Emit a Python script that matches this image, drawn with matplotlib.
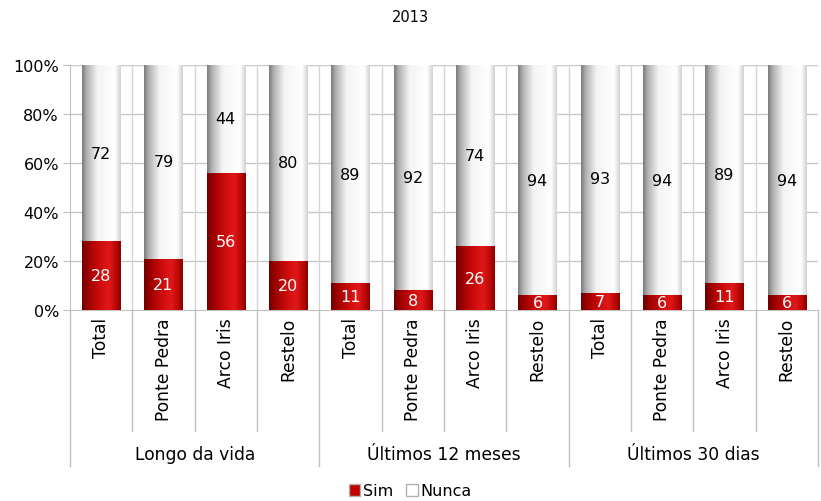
import numpy as np
import matplotlib; matplotlib.use("Agg")
import matplotlib.pyplot as plt
from matplotlib.colors import LinearSegmentedColormap
from matplotlib.patches import Patch

plt.rcParams['font.family'] = ['DejaVu Sans']

groups = ["Longo da vida", "Últimos 12 meses", "Últimos 30 dias"]
places = ["Total", "Ponte Pedra", "Arco Iris", "Restelo"]
sim = [28, 21, 56, 20, 11, 8, 26, 6, 7, 6, 11, 6]
nunca = [72, 79, 44, 80, 89, 92, 74, 94, 93, 94, 89, 94]

red_cm = LinearSegmentedColormap.from_list("r", [(0, "#6e0000"), (0.15, "#9a0000"), (0.45, "#cc0c0c"),
                                                  (0.7, "#e01818"), (0.9, "#b40606"), (1, "#8c0000")])
wht_cm = LinearSegmentedColormap.from_list("w", [(0, "#7a7a7a"), (0.12, "#b0b0b0"), (0.4, "#f4f4f4"),
                                                  (0.85, "#ffffff"), (1, "#d0d0d0")])
grad = np.linspace(0, 1, 256).reshape(1, -1)
fs = 11.5
fs_cat = 12.3

fig = plt.figure(figsize=(8.21, 5.02), dpi=100)
ax = fig.add_axes([70/821, 1-311/502, 748/821, 245/502])
n = len(sim)
x = np.arange(n)
w = 0.61
for i in range(n):
    ax.imshow(grad, cmap=red_cm, extent=[x[i]-w/2, x[i]+w/2, 0, sim[i]], aspect="auto",
              interpolation="bicubic", zorder=3)
    ax.imshow(grad, cmap=wht_cm, extent=[x[i]-w/2, x[i]+w/2, sim[i], sim[i]+nunca[i]], aspect="auto",
              interpolation="bicubic", zorder=3)
    ax.text(x[i], sim[i]/2, str(sim[i]), color="white", ha="center", va="center", fontsize=fs, zorder=4)
    ax.text(x[i], sim[i]+nunca[i]/2, str(nunca[i]), color="black", ha="center", va="center", fontsize=fs, zorder=4)

ax.set_xlim(-0.5, n-0.5)
ax.set_ylim(0, 100)
ax.set_yticks(range(0, 101, 20))
ax.set_yticklabels([f"{v}%" for v in range(0, 101, 20)], fontsize=fs)
ax.set_xticks([])
for v in range(20, 101, 20):
    ax.axhline(v, color="#c8c8c8", lw=1, zorder=1)
for b in np.arange(0.5, n-0.5, 1):
    ax.axvline(b, color="#d4d4d4", lw=1, zorder=1)
for s in ["top", "right"]:
    ax.spines[s].set_visible(False)
ax.spines["left"].set_color("#c0c0c0")
ax.spines["bottom"].set_color("#c0c0c0")
ax.tick_params(axis="y", length=5, color="#c0c0c0", pad=3)

# category axis below
tr = ax.get_xaxis_transform()
for b in np.arange(-0.5, n, 1):
    outer = (b + 0.5) % 4 == 0
    ax.plot([b, b], [0, -0.637 if outer else -0.494], transform=tr, color="#c0c0c0", lw=1, clip_on=False)
for i in range(n):
    ax.text(x[i], -0.029, places[i % 4], transform=tr, rotation=90, ha="center", va="top", fontsize=fs_cat)
for g, name in enumerate(groups):
    ax.text(g*4 + 1.5, -0.588, name, transform=tr, ha="center", va="center", fontsize=fs_cat)

fig.text(0.5, 1-18/502, "2013", ha="center", va="center", fontsize=10.5)
handles = [Patch(facecolor="#c00000", edgecolor="#b0b0b0", label="Sim"),
           Patch(facecolor="white", edgecolor="#b0b0b0", label="Nunca")]
fig.legend(handles=handles, loc="center", bbox_to_anchor=(0.5, 1-492/502), ncol=2, frameon=False,
           fontsize=fs, handlelength=0.7, handleheight=0.7, handletextpad=0.2, columnspacing=0.8)
fig.savefig("out.png", dpi=100)
